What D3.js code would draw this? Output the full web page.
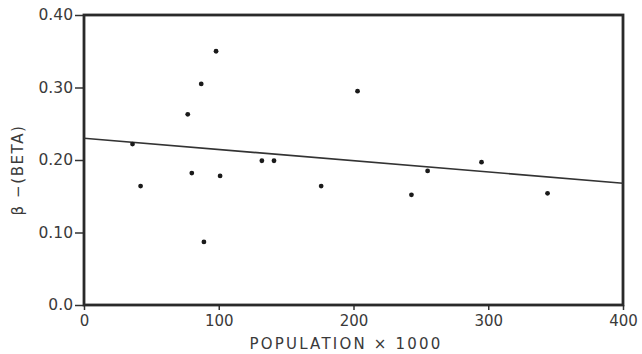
<!DOCTYPE html>
<html>
<head>
<meta charset="utf-8">
<script src="https://cdn.jsdelivr.net/npm/d3@7"></script>
<style>
  html, body { margin: 0; padding: 0; background: #fff; }
  svg { display: block; }
  .tick text { font-family: "DejaVu Sans", sans-serif; fill: #3a3a3a; }
</style>
</head>
<body>
<svg id="chart" width="642" height="354"></svg>
<script>
// population (thousands) and beta values
const population = [36, 42, 77, 87, 98, 80, 89, 101, 132, 141, 203, 176, 243, 255, 295, 344];
const beta = [0.222, 0.164, 0.263, 0.305, 0.350, 0.182, 0.087, 0.178, 0.199, 0.199, 0.295, 0.164, 0.152, 0.185, 0.197, 0.154];

// fitted line endpoints
const fitX = [0, 400];
const fitY = [0.230, 0.168];

const xTicks = [0, 100, 200, 300, 400];
const yTicks = [0, 0.1, 0.2, 0.3, 0.4];
const yTickLabels = ['0.0', '0.10', '0.20', '0.30', '0.40'];

const svg = d3.select('#chart');

const x = d3.scaleLinear().domain([0, 400]).range([84, 623]);
const y = d3.scaleLinear().domain([0, 0.4]).range([305, 15]);

// y axis
svg.append('g')
  .attr('transform', `translate(${x(0)},0)`)
  .call(d3.axisLeft(y).tickValues(yTicks).tickSize(9).tickPadding(2)
    .tickFormat((d, i) => yTickLabels[i]))
  .call(g => g.select('.domain').remove())
  .call(g => g.selectAll('.tick line').attr('stroke', '#333').attr('stroke-width', 1.5))
  .call(g => g.selectAll('.tick text').attr('font-size', 15.5));

// x axis
svg.append('g')
  .attr('transform', `translate(0,${y(0)})`)
  .call(d3.axisBottom(x).tickValues(xTicks).tickSize(5).tickPadding(5)
    .tickFormat(d3.format('d')))
  .call(g => g.select('.domain').remove())
  .call(g => g.selectAll('.tick line').attr('stroke', '#333').attr('stroke-width', 1.5))
  .call(g => g.selectAll('.tick text').attr('font-size', 15));

// frame
svg.append('rect')
  .attr('x', x(0))
  .attr('y', y(0.4))
  .attr('width', x(400) - x(0))
  .attr('height', y(0) - y(0.4))
  .attr('fill', 'none')
  .attr('stroke', '#2a2a2a')
  .attr('stroke-width', 2.8);

// regression line
svg.append('line')
  .attr('x1', x(fitX[0])).attr('y1', y(fitY[0]))
  .attr('x2', x(fitX[1])).attr('y2', y(fitY[1]))
  .attr('stroke', '#333')
  .attr('stroke-width', 1.6);

// points
svg.append('g')
  .selectAll('circle')
  .data(population.map((p, i) => [p, beta[i]]))
  .enter()
  .append('circle')
  .attr('cx', d => x(d[0]))
  .attr('cy', d => y(d[1]))
  .attr('r', 2.4)
  .attr('fill', '#1a1a1a');

// axis titles
svg.append('text')
  .attr('x', 346)
  .attr('y', 349)
  .attr('text-anchor', 'middle')
  .attr('font-family', '"DejaVu Sans", sans-serif')
  .attr('font-size', 15)
  .attr('letter-spacing', 2.2)
  .attr('fill', '#3a3a3a')
  .text('POPULATION × 1000');

svg.append('text')
  .attr('transform', 'translate(23,170) rotate(-90)')
  .attr('text-anchor', 'middle')
  .attr('font-family', '"DejaVu Sans", sans-serif')
  .attr('font-size', 15)
  .attr('letter-spacing', 1.6)
  .attr('fill', '#3a3a3a')
  .text('β −(BETA)');
</script>
</body>
</html>
